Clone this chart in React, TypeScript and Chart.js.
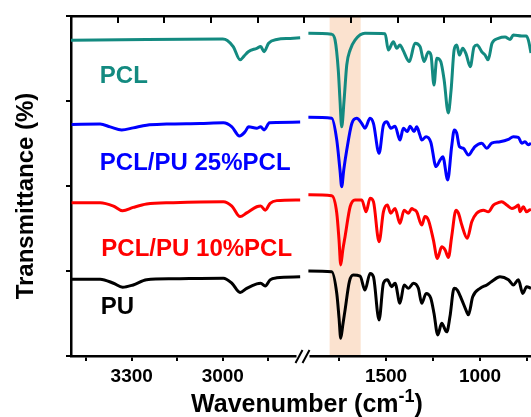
import React, { useEffect, useRef } from 'react';
import { Chart, registerables } from 'chart.js';

Chart.register(...registerables);

const FONT = '"Liberation Sans", Arial, Helvetica, sans-serif';

const TEAL = '#138a80';
const BLUE = '#0000ff';
const RED = '#ff0000';
const BLACK = '#000000';

// ---- axes ----
const LEFT_RANGE = [2734, 3500];
const RIGHT_RANGE = [729, 1939];
const LEFT_TICKS = [3450, 3300, 3150, 3000, 2850];
const RIGHT_TICKS = [1750, 1500, 1250, 1000, 750];
const LEFT_LABELED = [3300, 3000];
const RIGHT_LABELED = [1500, 1000];
const Y_RANGE = [0, 100];
const Y_STEP = 25;
const BAND = [1800, 1635];

// ---- series labels ----
const LABEL_TEXTS = ['PCL', 'PCL/PU 25%PCL', 'PCL/PU 10%PCL', 'PU'];
const LABEL_COLORS = [TEAL, BLUE, RED, BLACK];
const LABEL_WN = [3405, 3405, 3400, 3402];
const LABEL_T = [82.1, 56.7, 31.3, 14.3];

// ---- left panel (3500-2750 cm-1) ----
const PCL_L_WN = [3500, 3250, 3000, 2985, 2965, 2943, 2930, 2916, 2888, 2875, 2864, 2849, 2822, 2778, 2745];
const PCL_L_T = [92.9, 93.1, 93.2, 92.8, 90.9, 87.1, 88.2, 89.5, 90.5, 91.0, 89.5, 92.0, 93.1, 93.4, 93.6];
const P25_L_WN = [3498, 3404, 3371, 3333, 3295, 3251, 3185, 3075, 2998, 2970, 2945, 2926, 2915, 2888, 2875, 2864, 2846, 2822, 2745];
const P25_L_T = [68.1, 68.2, 67.4, 66.5, 67.1, 67.9, 68.2, 68.4, 68.6, 67.4, 64.7, 66.0, 67.4, 67.0, 67.4, 66.5, 68.6, 68.7, 68.8];
const P10_L_WN = [3498, 3404, 3360, 3330, 3295, 3251, 3163, 2998, 2970, 2943, 2921, 2888, 2875, 2860, 2844, 2822, 2745];
const P10_L_T = [45.1, 45.1, 44.1, 42.7, 43.7, 44.7, 45.1, 45.4, 44.1, 41.0, 42.1, 43.9, 44.1, 42.9, 44.9, 45.7, 45.9];
const PU_L_WN = [3498, 3404, 3360, 3330, 3295, 3251, 3163, 2998, 2970, 2943, 2921, 2888, 2875, 2860, 2844, 2822, 2745];
const PU_L_T = [22.6, 22.6, 21.4, 20.2, 20.9, 22.4, 22.7, 22.9, 21.4, 18.7, 19.9, 21.2, 21.4, 20.6, 22.4, 23.0, 23.3];

// ---- right panel (1900-730 cm-1) ----
const PCL_R_WN = [1913, 1789, 1771, 1754, 1745, 1736, 1723, 1709, 1691, 1665, 1612, 1505, 1488, 1461, 1443, 1426, 1410, 1376, 1346, 1319, 1298, 1275, 1261, 1245, 1230, 1209, 1191, 1169, 1154, 1138, 1124, 1110, 1092, 1074, 1052, 1032, 1016, 991, 973, 957, 936, 903, 867, 840, 823, 778, 755, 743, 729];
const PCL_R_T = [94.9, 94.6, 92.9, 84.1, 75.3, 67.4, 75.3, 85.6, 90.0, 92.9, 94.9, 94.8, 90.0, 92.4, 90.5, 91.5, 90.0, 86.6, 92.0, 91.0, 86.6, 89.4, 88.5, 79.7, 87.6, 86.6, 81.2, 71.5, 78.2, 90.0, 91.5, 88.5, 90.5, 88.8, 85.1, 90.9, 91.5, 89.5, 88.5, 87.1, 92.0, 93.4, 93.8, 93.1, 94.4, 94.1, 94.1, 92.9, 89.1];
const P25_R_WN = [1913, 1789, 1762, 1745, 1736, 1725, 1709, 1682, 1656, 1629, 1612, 1585, 1567, 1537, 1514, 1496, 1475, 1452, 1426, 1408, 1387, 1372, 1351, 1337, 1320, 1310, 1287, 1262, 1234, 1213, 1198, 1172, 1151, 1137, 1124, 1110, 1089, 1062, 1040, 1027, 991, 964, 938, 894, 849, 823, 796, 778, 761, 743, 729];
const P25_R_T = [70.2, 69.9, 63.5, 54.7, 49.8, 54.7, 60.6, 68.4, 69.9, 68.4, 67.0, 69.9, 68.4, 59.6, 67.9, 68.9, 67.0, 67.6, 63.5, 67.0, 66.0, 67.6, 66.0, 67.4, 65.0, 63.5, 64.5, 62.9, 55.7, 57.6, 58.6, 51.8, 61.6, 66.5, 65.5, 61.6, 61.1, 59.1, 60.6, 61.6, 62.6, 61.1, 62.6, 63.0, 63.7, 64.5, 64.3, 62.6, 63.0, 62.1, 62.6];
const P10_R_WN = [1913, 1789, 1762, 1750, 1741, 1730, 1718, 1691, 1665, 1629, 1606, 1585, 1567, 1537, 1514, 1493, 1475, 1452, 1426, 1404, 1381, 1363, 1354, 1337, 1310, 1293, 1275, 1248, 1227, 1204, 1186, 1168, 1151, 1128, 1115, 1097, 1068, 1044, 1018, 982, 956, 929, 903, 885, 858, 831, 814, 796, 787, 770, 752, 738, 729];
const P10_R_T = [47.4, 47.1, 42.0, 34.1, 26.8, 31.2, 35.1, 43.9, 45.9, 45.9, 42.4, 46.4, 45.4, 33.6, 42.4, 44.4, 42.0, 43.4, 39.0, 42.9, 42.0, 43.4, 43.1, 42.4, 38.5, 41.0, 40.0, 34.1, 28.7, 32.1, 31.2, 29.0, 35.1, 42.9, 42.0, 38.5, 34.6, 39.5, 42.0, 42.9, 42.4, 44.4, 45.1, 45.4, 44.4, 43.4, 43.7, 44.4, 42.4, 43.9, 42.4, 42.9, 43.1];
const PU_R_WN = [1913, 1789, 1762, 1750, 1741, 1730, 1718, 1695, 1674, 1638, 1612, 1585, 1567, 1537, 1514, 1493, 1470, 1452, 1426, 1404, 1381, 1354, 1328, 1310, 1287, 1262, 1245, 1225, 1204, 1177, 1160, 1138, 1121, 1097, 1071, 1062, 1039, 1000, 964, 938, 894, 849, 823, 796, 773, 752, 729];
const PU_R_T = [25.0, 24.8, 18.4, 11.2, 5.2, 9.1, 13.5, 21.9, 23.8, 23.5, 19.4, 24.3, 23.3, 10.6, 21.4, 22.4, 20.4, 21.4, 15.5, 20.9, 19.9, 21.4, 19.9, 15.5, 18.4, 17.0, 12.6, 6.2, 9.6, 7.1, 11.6, 19.9, 19.4, 16.5, 13.0, 12.1, 17.4, 19.9, 20.9, 21.9, 23.3, 22.4, 20.9, 22.4, 18.4, 20.4, 19.9];

const pts = (wn: number[], t: number[]) => wn.map((w, i) => ({ x: w, y: t[i] }));

const line = (label: string, color: string, wn: number[], t: number[], axis: string) => ({
  label,
  data: pts(wn, t),
  xAxisID: axis,
  yAxisID: 'y',
  borderColor: color,
  backgroundColor: color,
  borderWidth: 3,
  pointRadius: 0,
  fill: false,
  cubicInterpolationMode: 'monotone' as const,
});

const decor = {
  id: 'decor',
  beforeDraw(chart: any) {
    const { ctx, chartArea } = chart;
    const xr = chart.scales.xR;
    const a = xr.getPixelForValue(BAND[0]);
    const b = xr.getPixelForValue(BAND[1]);
    ctx.save();
    ctx.fillStyle = '#fbe2cf';
    ctx.fillRect(Math.min(a, b), chartArea.top + 1, Math.abs(b - a), chartArea.bottom - chartArea.top - 2);
    ctx.restore();
  },
  afterDraw(chart: any) {
    const { ctx, chartArea } = chart;
    const xl = chart.scales.xL;
    const xr = chart.scales.xR;
    const y = chart.scales.y;
    ctx.save();
    // tick labels, positioned by the wavenumber scales
    ctx.fillStyle = '#000000';
    ctx.font = `bold 19px ${FONT}`;
    ctx.textAlign = 'center';
    ctx.textBaseline = 'alphabetic';
    const ty = chartArea.bottom + 25.7;
    LEFT_LABELED.forEach((v) => ctx.fillText(String(v), xl.getPixelForValue(v), ty));
    RIGHT_LABELED.forEach((v) => ctx.fillText(String(v), xr.getPixelForValue(v), ty));
    // series labels
    ctx.font = `bold 24px ${FONT}`;
    ctx.textAlign = 'left';
    ctx.textBaseline = 'middle';
    LABEL_TEXTS.forEach((txt, i) => {
      ctx.fillStyle = LABEL_COLORS[i];
      ctx.fillText(txt, xl.getPixelForValue(LABEL_WN[i]), y.getPixelForValue(LABEL_T[i]));
    });
    // axis break
    const bx = xl.right;
    const by = chartArea.bottom;
    ctx.fillStyle = '#fff';
    ctx.fillRect(bx - 7, by - 4, 13, 8);
    ctx.strokeStyle = '#000';
    ctx.lineWidth = 2;
    ctx.beginPath();
    ctx.moveTo(bx - 8, by + 7);
    ctx.lineTo(bx - 1, by - 6);
    ctx.moveTo(bx - 1, by + 7);
    ctx.lineTo(bx + 6, by - 6);
    ctx.stroke();
    // y title
    ctx.fillStyle = '#000';
    ctx.font = `bold 24px ${FONT}`;
    ctx.textAlign = 'center';
    ctx.textBaseline = 'middle';
    ctx.translate(26, (chartArea.top + chartArea.bottom) / 2 + 10);
    ctx.rotate(-Math.PI / 2);
    ctx.fillText('Transmittance (%)', 0, 0);
    ctx.restore();
    // x title with superscript
    ctx.save();
    ctx.fillStyle = '#000';
    ctx.textBaseline = 'alphabetic';
    ctx.textAlign = 'left';
    const main = 'Wavenumber (cm';
    const sup = '-1';
    const close = ')';
    ctx.font = `bold 25px ${FONT}`;
    const w1 = ctx.measureText(main).width;
    const w3 = ctx.measureText(close).width;
    ctx.font = `bold 18px ${FONT}`;
    const w2 = ctx.measureText(sup).width;
    const total = w1 + w2 + w3;
    let x = 307 - total / 2;
    const base = 411.5;
    ctx.font = `bold 25px ${FONT}`;
    ctx.fillText(main, x, base);
    x += w1;
    ctx.font = `bold 18px ${FONT}`;
    ctx.fillText(sup, x, base - 10);
    x += w2;
    ctx.font = `bold 25px ${FONT}`;
    ctx.fillText(close, x, base);
    ctx.restore();
  },
};

const axisGrid = (len: number) => ({
  display: true,
  drawOnChartArea: false,
  drawTicks: true,
  tickLength: len,
  lineWidth: 2,
  color: '#000',
});
const axisBorder = { display: true, color: '#000', width: 2.5 };

export default function App() {
  const ref = useRef<HTMLCanvasElement>(null);
  useEffect(() => {
    if (!ref.current) return;
    const chart = new Chart(ref.current, {
      type: 'line',
      data: {
        datasets: [
          line('PCL', TEAL, PCL_L_WN, PCL_L_T, 'xL'),
          line('PCL/PU 25%PCL', BLUE, P25_L_WN, P25_L_T, 'xL'),
          line('PCL/PU 10%PCL', RED, P10_L_WN, P10_L_T, 'xL'),
          line('PU', BLACK, PU_L_WN, PU_L_T, 'xL'),
          line('PCL', TEAL, PCL_R_WN, PCL_R_T, 'xR'),
          line('PCL/PU 25%PCL', BLUE, P25_R_WN, P25_R_T, 'xR'),
          line('PCL/PU 10%PCL', RED, P10_R_WN, P10_R_T, 'xR'),
          line('PU', BLACK, PU_R_WN, PU_R_T, 'xR'),
        ] as any,
      },
      options: {
        animation: false,
        responsive: false,
        events: [],
        layout: { padding: 0 },
        plugins: { legend: { display: false }, tooltip: { enabled: false } },
        scales: {
          xL: {
            type: 'linear',
            position: 'bottom',
            stack: 'wn',
            stackWeight: 232.5,
            min: LEFT_RANGE[0],
            max: LEFT_RANGE[1],
            reverse: true,
            afterFit: (s: any) => { s.height = 61; },
            afterBuildTicks: (s: any) => { s.ticks = LEFT_TICKS.map((v) => ({ value: v })); },
            ticks: { autoSkip: false, display: false },
            grid: axisGrid(5),
            border: axisBorder,
          },
          xR: {
            type: 'linear',
            position: 'bottom',
            stack: 'wn',
            stackWeight: 227.5,
            min: RIGHT_RANGE[0],
            max: RIGHT_RANGE[1],
            reverse: true,
            afterFit: (s: any) => { s.height = 61; },
            afterBuildTicks: (s: any) => { s.ticks = RIGHT_TICKS.map((v) => ({ value: v })); },
            ticks: { autoSkip: false, display: false },
            grid: axisGrid(5),
            border: axisBorder,
          },
          xTop: {
            type: 'linear',
            position: 'top',
            min: 0,
            max: 9.86,
            afterFit: (s: any) => { s.height = 16; },
            ticks: { stepSize: 1, includeBounds: false, display: false },
            grid: axisGrid(-7),
            border: axisBorder,
          },
          y: {
            type: 'linear',
            position: 'left',
            min: Y_RANGE[0],
            max: Y_RANGE[1],
            afterFit: (s: any) => { s.width = 71; },
            ticks: { stepSize: Y_STEP, display: false },
            grid: axisGrid(5),
            border: axisBorder,
          },
        },
      } as any,
      plugins: [decor],
    });
    return () => chart.destroy();
  }, []);

  return (
    <div style={{ position: 'absolute', left: 0, top: 0, width: 531, height: 417, background: '#fff', overflow: 'hidden' }}>
      <canvas ref={ref} width={531} height={417} style={{ display: 'block' }} />
    </div>
  );
}
